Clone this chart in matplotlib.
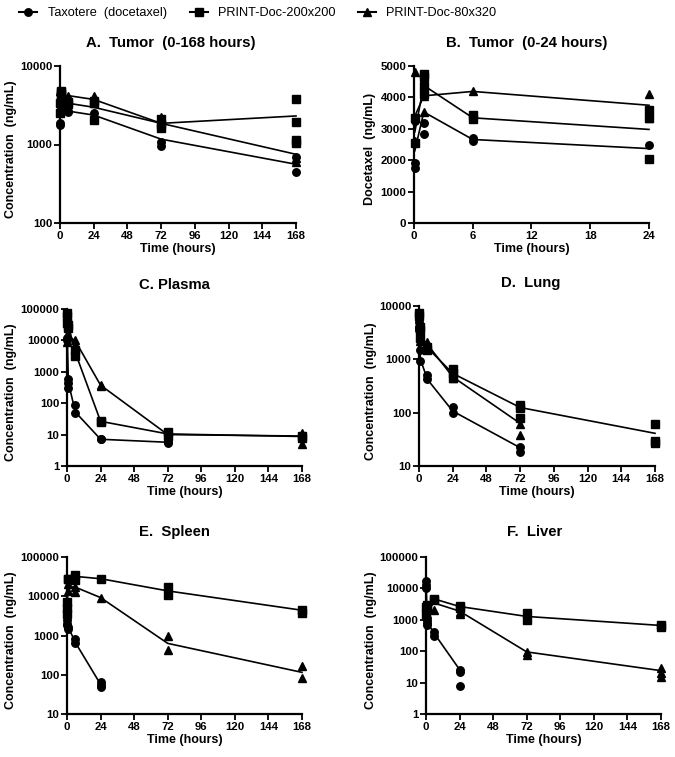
import matplotlib
matplotlib.use("Agg")
import matplotlib.pyplot as plt
from matplotlib.lines import Line2D
from matplotlib.ticker import FixedLocator, NullLocator, FuncFormatter

plt.rcParams["font.family"] = ["Liberation Sans", "DejaVu Sans"]

GROUPS = ["Taxotere  (docetaxel)", "PRINT-Doc-200x200", "PRINT-Doc-80x320"]
MARKERS = ["o", "s", "^"]
MSIZE = [5.4, 5.5, 5.9]

# Tumor (panels A and B share these), time in hours -> replicate values (ng/mL)
tumor_tax = {0.083: [1750, 1900, 3250], 1: [2850, 3200], 6: [2600, 2700], 24: [2500, 2050],
             72: [1080, 950], 168: [700, 450]}
tumor_tax_mean = {0.083: 2300, 1: 3535, 6: 2660, 24: 2370, 72: 1170, 168: 560}
tumor_d200 = {0.083: [3350, 2550], 1: [4750, 4650, 4350, 4100], 6: [3450, 3300], 24: [3600, 3350, 2050],
              72: [1850, 1600, 2100], 168: [3850, 1950, 1130, 1030]}
tumor_d200_mean = {0.083: 2900, 1: 4380, 6: 3350, 24: 2980, 72: 1860, 168: 2310}
tumor_d80 = {0.083: [4800, 2600], 1: [3550, 4050], 6: [4200], 24: [4100, 3350],
             72: [2250, 1950, 1700], 168: [670, 600]}
tumor_d80_mean = {0.083: 3400, 1: 4050, 6: 4190, 24: 3750, 72: 1860, 168: 750}

# Plasma
plasma_tax = {0.083: [10000, 12000, 40000], 1: [300, 450, 600], 6: [50, 85], 24: [7, 7.5], 72: [5.5, 6]}
plasma_tax_mean = {0.083: 20000, 1: 450, 6: 52, 24: 7.1, 72: 5.7}
plasma_d200 = {0.083: [75000, 60000, 35000], 1: [30000, 25000], 6: [3300, 5000], 24: [25, 28],
               72: [9, 12], 168: [8, 9]}
plasma_d200_mean = {0.083: 60000, 1: 30000, 6: 4000, 24: 26.5, 72: 10.5, 168: 8.7}
plasma_d80 = {0.083: [15000, 9000], 1: [14000], 6: [10000, 6000], 24: [380, 350], 72: [9.5, 11], 168: [11, 5]}
plasma_d80_mean = {0.083: 12000, 1: 14000, 6: 9500, 24: 375, 72: 10, 168: 9}

# Lung
lung_tax = {0.083: [5000, 4000, 3500], 1: [1500, 950], 6: [500, 420], 24: [125, 100], 72: [23, 18]}
lung_tax_mean = {0.083: 4000, 1: 1000, 6: 420, 24: 107, 72: 22}
lung_d200 = {0.083: [7500, 6500], 1: [3500, 4000, 2500], 6: [1500, 1700], 24: [650, 550, 450],
             72: [140, 120, 80], 168: [62, 30, 27]}
lung_d200_mean = {0.083: 7000, 1: 3300, 6: 1650, 24: 545, 72: 125, 168: 41}
lung_d80 = {0.083: [4500], 1: [2500, 2200], 6: [2100, 1800], 24: [500, 450], 72: [60, 38]}
lung_d80_mean = {0.083: 4500, 1: 2500, 6: 1900, 24: 470, 72: 63}

# Spleen
spleen_tax = {0.083: [2500, 2000, 1800], 1: [1600, 1500], 6: [800, 650], 24: [65, 55, 50]}
spleen_tax_mean = {0.083: 2200, 1: 1600, 6: 660, 24: 57}
spleen_d200 = {0.083: [7000, 5000, 3500], 1: [27000, 28000], 6: [35000, 26000], 24: [28000],
               72: [17000, 11000], 168: [4500, 3800]}
spleen_d200_mean = {0.083: 5000, 1: 27500, 6: 32000, 24: 28000, 72: 13700, 168: 4400}
spleen_d80 = {1: [14000, 20000], 6: [13000, 17000], 24: [9000], 72: [950, 420], 168: [165, 85]}
spleen_d80_mean = {1: 17500, 6: 17000, 24: 9250, 72: 630, 168: 115}

# Liver
liver_tax = {0.083: [17000, 13000, 10000], 1: [1000, 800, 700], 6: [400, 300], 24: [25, 22, 8]}
liver_tax_mean = {0.083: 13000, 1: 830, 6: 360, 24: 26}
liver_d200 = {0.083: [2500, 1500], 1: [3000, 2500], 6: [4700, 4200], 24: [2700, 2300],
              72: [1700, 1000], 168: [700, 600]}
liver_d200_mean = {0.083: 2000, 1: 2700, 6: 4600, 24: 2650, 72: 1280, 168: 660}
liver_d80 = {1: [2500, 1500], 6: [2000], 24: [1800, 1500], 72: [95, 75], 168: [30, 20, 15]}
liver_d80_mean = {1: 2200, 6: 3400, 24: 1890, 72: 95, 168: 24}

W, H = 675, 757
fig = plt.figure(figsize=(W / 100, H / 100), dpi=100)


def make_ax(left, right, top, bottom):
    return fig.add_axes([left / W, 1 - bottom / H, (right - left) / W, (bottom - top) / H])


def draw(ax, pts, means, tmax):
    for g, (p, m) in enumerate(zip(pts, means)):
        xs, ys = [], []
        for t, vals in p.items():
            if t <= tmax:
                xs += [t] * len(vals)
                ys += vals
        ax.plot(xs, ys, ls="none", marker=MARKERS[g], ms=MSIZE[g], color="black", clip_on=False, zorder=3)
        mt = [t for t in m if t <= tmax]
        ax.plot(mt, [m[t] for t in mt], color="black", lw=1.2, clip_on=False, zorder=2)


def style(ax, tmax, ylog, ylim, yticks, ylabel, label_x):
    for s in ["top", "right"]:
        ax.spines[s].set_visible(False)
    for s in ["left", "bottom"]:
        ax.spines[s].set_linewidth(1.6)
    ax.set_xlim(0, tmax)
    ax.set_xticks([0, 6, 12, 18, 24] if tmax == 24 else [0, 24, 48, 72, 96, 120, 144, 168])
    if ylog:
        ax.set_yscale("log")
    ax.set_ylim(*ylim)
    ax.yaxis.set_major_locator(FixedLocator(yticks))
    ax.yaxis.set_minor_locator(NullLocator())
    ax.yaxis.set_major_formatter(FuncFormatter(lambda v, p: f"{int(round(v))}"))
    ax.tick_params(axis="both", which="major", length=4, width=1.3, pad=1.5,
                   labelsize=8.2, direction="out")
    for lab in ax.get_xticklabels() + ax.get_yticklabels():
        lab.set_fontweight("bold")
    ax.set_ylabel(ylabel, fontsize=9, fontweight="bold")
    bb = ax.get_position()
    # label anchor is its right edge after rotation
    ax.yaxis.set_label_coords((label_x / W - bb.x0) / bb.width, 0.47)
    ax.set_xlabel("Time (hours)", fontsize=9, fontweight="bold", labelpad=2)


panels = [
    ("A.  Tumor  (0-168 hours)", (60, 296, 66, 223), (171, 43),
     [tumor_tax, tumor_d200, tumor_d80], [tumor_tax_mean, tumor_d200_mean, tumor_d80_mean],
     168, True, (100, 10000), [100, 1000, 10000], "Concentration  (ng/mL)", 17),
    ("B.  Tumor  (0-24 hours)", (414, 649, 66, 223), (527, 43),
     [tumor_tax, tumor_d200, tumor_d80], [tumor_tax_mean, tumor_d200_mean, tumor_d80_mean],
     24, False, (0, 5000), [0, 1000, 2000, 3000, 4000, 5000], "Docetaxel  (ng/mL)", 376),
    ("C. Plasma", (67, 302, 309, 466), (174, 285),
     [plasma_tax, plasma_d200, plasma_d80], [plasma_tax_mean, plasma_d200_mean, plasma_d80_mean],
     168, True, (1, 100000), [1, 10, 100, 1000, 10000, 100000], "Concentration  (ng/mL)", 17),
    ("D.  Lung", (419, 655, 306, 466), (531, 283),
     [lung_tax, lung_d200, lung_d80], [lung_tax_mean, lung_d200_mean, lung_d80_mean],
     168, True, (10, 10000), [10, 100, 1000, 10000], "Concentration  (ng/mL)", 377),
    ("E.  Spleen", (67, 302, 557, 714), (174, 532),
     [spleen_tax, spleen_d200, spleen_d80], [spleen_tax_mean, spleen_d200_mean, spleen_d80_mean],
     168, True, (10, 100000), [10, 100, 1000, 10000, 100000], "Concentration  (ng/mL)", 17),
    ("F.  Liver", (426, 661, 557, 714), (535, 532),
     [liver_tax, liver_d200, liver_d80], [liver_tax_mean, liver_d200_mean, liver_d80_mean],
     168, True, (1, 100000), [1, 10, 100, 1000, 10000, 100000], "Concentration  (ng/mL)", 377),
]

for title, box, tpos, pts, means, tmax, ylog, ylim, yticks, ylabel, lx in panels:
    ax = make_ax(*box)
    draw(ax, pts, means, tmax)
    style(ax, tmax, ylog, ylim, yticks, ylabel, lx)
    fig.text(tpos[0] / W, 1 - tpos[1] / H, title, ha="center", va="center",
             fontsize=10.7, fontweight="bold")

handles = [Line2D([], [], color="black", lw=1.5, marker=m, ms=s) for m, s in zip(MARKERS, MSIZE)]
fig.legend(handles, GROUPS, loc="center", bbox_to_anchor=(258 / W, 1 - 13 / H), ncol=3,
           frameon=False, fontsize=9.2, handlelength=1.4, handletextpad=0.8, columnspacing=1.8)

fig.savefig("out.png", dpi=100)
